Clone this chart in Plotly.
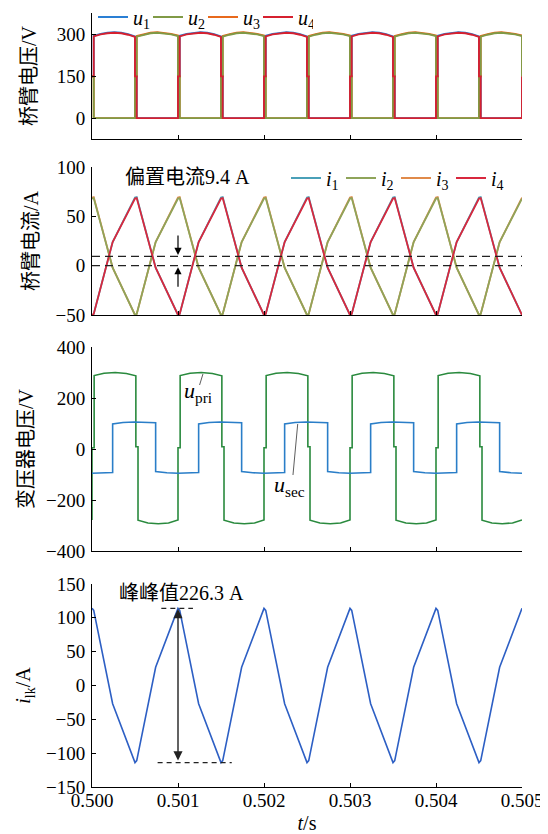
import plotly.graph_objects as go

# ---------------- data (time offsets in ms within one 1 ms switching period) ----------------
T0 = 0.500          # s, start of window
PERIOD_MS = 1.0     # switching period
N_PERIODS = 5

# arm voltages (V)
U4_T = [0.00, 0.02, 0.02, 0.10, 0.18, 0.26, 0.34, 0.42, 0.50, 0.50, 0.52, 0.52, 1.00]
U4_V = [150, 150, 294, 301, 305, 307, 305, 300, 292, 150, 150, 0, 0]
U1_V = [150, 150, 296, 303, 307, 309, 307, 302, 294, 150, 150, 0, 0]
U2_T = [0.00, 0.02, 0.02, 0.50, 0.50, 0.52, 0.52, 0.60, 0.68, 0.76, 0.84, 0.92, 1.00]
U2_V = [150, 150, 0, 0, 150, 150, 293, 300, 305, 307, 305, 301, 295]
U3_V = [150, 150, 0, 0, 150, 150, 295, 302, 307, 309, 307, 303, 297]
U_END = {"u1": 150, "u2": 150, "u3": 150, "u4": 150}

# arm currents (A)
I_T = [0.00, 0.02, 0.24, 0.50, 0.52, 0.74]
I4_V = [-50, -49, 24, 68, 68.5, -2]
I1_V = [-50, -49, 24, 69, 69.5, -2]
I2_V = [68, 68.5, -2, -50, -49, 24]
I3_V = [69, 69.5, -2, -50, -49, 24]
I_END = {"i1": -50, "i2": 68, "i3": 69, "i4": -50}
BIAS = 9.4

# transformer voltages (V)
UPRI_T = [0.000, 0.000, 0.025, 0.025, 0.14, 0.27, 0.40, 0.51, 0.51, 0.535, 0.535, 0.65, 0.77, 0.89]
UPRI_V = [-278, 5, 5, 288, 297, 300, 296, 287, 9, 9, -279, -290, -293, -290]
UPRI_END = -278
USEC_T = [0.00, 0.12, 0.24, 0.24, 0.36, 0.49, 0.62, 0.74, 0.74, 0.87]
USEC_V = [-95, -94, -92, 98, 104, 106, 105, 103, -88, -93]
USEC_END = -95

# leakage current (A)
ILK_T = [0.00, 0.02, 0.24, 0.50, 0.52, 0.74]
ILK_V = [114, 111, -27, -114, -111, 27]
ILK_END = 114
ILK_PP = 226.3
ILK_MAX = 114
ILK_MIN = -114

X_TICKS = [0.500, 0.501, 0.502, 0.503, 0.504, 0.505]
Y1_TICKS = [0, 150, 300]
Y2_TICKS = [-50, 0, 50, 100]
Y3_TICKS = [-400, -200, 0, 200, 400]
Y4_TICKS = [-150, -100, -50, 0, 50, 100, 150]


def tile(ts, vs, end_val):
    xs, ys = [], []
    for k in range(N_PERIODS):
        for t, v in zip(ts, vs):
            xs.append(T0 + (k * PERIOD_MS + t) / 1000.0)
            ys.append(v)
    xs.append(T0 + N_PERIODS * PERIOD_MS / 1000.0)
    ys.append(end_val)
    return xs, ys


SERIF = "Liberation Serif, Noto Sans CJK SC, serif"
FS = 19

fig = go.Figure()

# ---- panel 1
c_u = {"u1": "#2a7fd4", "u2": "#809a46", "u3": "#e8691c", "u4": "#d6202f"}
series1 = [("u1", U4_T, U1_V, 1), ("u3", U2_T, U3_V, 3), ("u2", U2_T, U2_V, 2), ("u4", U4_T, U4_V, 4)]
for name, ts, vs, rank in series1:
    x, y = tile(ts, vs, U_END[name])
    fig.add_trace(go.Scatter(x=x, y=y, mode="lines", name=f"<i>u</i><sub>{name[1]}</sub>",
                             line=dict(color=c_u[name], width=1.9), xaxis="x", yaxis="y",
                             legend="legend", legendrank=rank))

# ---- panel 2
c_i = {"i1": "#4aa0b8", "i2": "#8fa45a", "i3": "#e08a4a", "i4": "#d8283e"}
series2 = [("i1", I1_V, 1), ("i3", I3_V, 3), ("i2", I2_V, 2), ("i4", I4_V, 4)]
for name, vs, rank in series2:
    x, y = tile(I_T, vs, I_END[name])
    fig.add_trace(go.Scatter(x=x, y=y, mode="lines", name=f"<i>i</i><sub>{name[1]}</sub>",
                             line=dict(color=c_i[name], width=1.8), xaxis="x2", yaxis="y2",
                             legend="legend2", legendrank=rank))

# ---- panel 3
x, y = tile(UPRI_T, UPRI_V, UPRI_END)
fig.add_trace(go.Scatter(x=x, y=y, mode="lines", name="u_pri", showlegend=False,
                         line=dict(color="#2a8a3e", width=1.6), xaxis="x3", yaxis="y3"))
x, y = tile(USEC_T, USEC_V, USEC_END)
fig.add_trace(go.Scatter(x=x, y=y, mode="lines", name="u_sec", showlegend=False,
                         line=dict(color="#2a7ec8", width=1.6), xaxis="x3", yaxis="y3"))

# ---- panel 4
x, y = tile(ILK_T, ILK_V, ILK_END)
fig.add_trace(go.Scatter(x=x, y=y, mode="lines", name="i_lk", showlegend=False,
                         line=dict(color="#2d5fc4", width=1.6), xaxis="x4", yaxis="y4"))

# ---------------- layout ----------------
OFF = 8                      # page body margin of the browser
W, H = 540, 826
ML, MR, MT, MB = 84, 26, 5, 47
PH = H - MT - MB
PW = W - ML - MR


def dom(top_s, bot_s):
    # screen px -> paper fraction
    return [(H - MB - (bot_s - OFF)) / PH, (H - MB - (top_s - OFF)) / PH]


def ypaper(y_s):
    return (H - MB - (y_s - OFF)) / PH


def xpaper(x_s):
    return (x_s - OFF - ML) / PW


axis_common = dict(showline=True, linecolor="black", linewidth=1, ticks="inside", ticklen=4,
                   tickcolor="black", tickwidth=1, showgrid=False, zeroline=False,
                   tickfont=dict(family=SERIF, size=FS, color="black"))

TITLE_FONT = dict(family=SERIF, size=20, color="black")
xr = [X_TICKS[0], X_TICKS[-1]]
layout = dict(
    width=W, height=H, margin=dict(l=ML, r=MR, t=MT, b=MB, autoexpand=False),
    paper_bgcolor="white", plot_bgcolor="white",
    font=dict(family=SERIF, size=FS, color="black"),
    xaxis=dict(domain=[0, 1], range=xr, tickvals=X_TICKS, showticklabels=False, anchor="y", **axis_common),
    xaxis2=dict(domain=[0, 1], range=xr, tickvals=X_TICKS, showticklabels=False, anchor="y2", **axis_common),
    xaxis3=dict(domain=[0, 1], range=xr, tickvals=X_TICKS, showticklabels=False, anchor="y3", **axis_common),
    xaxis4=dict(domain=[0, 1], range=xr, tickvals=X_TICKS, ticktext=[f"{v:.3f}" for v in X_TICKS],
                anchor="y4", ticklabelstandoff=-4,
                title=dict(text="<i>t</i>/s", font=TITLE_FONT, standoff=14),
                **axis_common),
    yaxis=dict(domain=dom(13, 139), range=[-75, 378], tickvals=Y1_TICKS, anchor="x", ticklabelstandoff=2,
               title=dict(text="桥臂电压/V", font=TITLE_FONT, standoff=14), **axis_common),
    yaxis2=dict(domain=dom(167, 315), range=[-50, 100], tickvals=Y2_TICKS, anchor="x2", ticklabelstandoff=2,
                title=dict(text="桥臂电流/A", font=TITLE_FONT, standoff=11), **axis_common),
    yaxis3=dict(domain=dom(347, 551), range=[-400, 400], tickvals=Y3_TICKS, anchor="x3", ticklabelstandoff=2,
                title=dict(text="变压器电压/V", font=TITLE_FONT, standoff=6), **axis_common),
    yaxis4=dict(domain=dom(584, 787), range=[-150, 150], tickvals=Y4_TICKS, anchor="x4", ticklabelstandoff=2,
                title=dict(text="<i>i</i><sub>lk</sub>/A", font=TITLE_FONT, standoff=9),
                **axis_common),
    legend=dict(orientation="h", x=xpaper(93), y=ypaper(17), xanchor="left", yanchor="middle",
                bgcolor="rgba(0,0,0,0)", font=dict(family=SERIF, size=20), entrywidth=10,
                entrywidthmode="pixels", traceorder="normal"),
    legend2=dict(orientation="h", x=xpaper(286), y=ypaper(178),
                 xanchor="left", yanchor="middle", bgcolor="rgba(0,0,0,0)",
                 font=dict(family=SERIF, size=20), entrywidth=10, entrywidthmode="pixels",
                 traceorder="normal"),
    showlegend=True,
)
fig.update_layout(**layout)

# ---- panel 2 decorations
for yv in [0, BIAS]:
    fig.add_shape(type="line", xref="x2", yref="y2", x0=xr[0], x1=xr[1], y0=yv, y1=yv,
                  line=dict(color="#222222", width=1.3, dash="8px,5px"))
fig.add_annotation(xref="x2", yref="y2", x=0.500364, y=89.6, text="偏置电流9.4 A", showarrow=False,
                   xanchor="left", yanchor="middle", font=dict(family=SERIF, size=20))
fig.add_annotation(xref="x2", yref="y2", x=0.501, y=BIAS + 1.5, ax=0.501, ay=32, axref="x2", ayref="y2",
                   text="", showarrow=True, arrowhead=2, arrowsize=1.2, arrowwidth=1.2, arrowcolor="black")
fig.add_annotation(xref="x2", yref="y2", x=0.501, y=-1.5, ax=0.501, ay=-23, axref="x2", ayref="y2",
                   text="", showarrow=True, arrowhead=2, arrowsize=1.2, arrowwidth=1.2, arrowcolor="black")

# ---- panel 3 labels
fig.add_shape(type="line", xref="x3", yref="y3", x0=0.501251, y0=251, x1=0.50129, y1=294,
              line=dict(color="#333333", width=0.8))
fig.add_annotation(xref="x3", yref="y3", x=0.501236, y=222, text="<i>u</i><sub>pri</sub>", showarrow=False,
                   font=dict(family=SERIF, size=22))
fig.add_shape(type="line", xref="x3", yref="y3", x0=0.502337, y0=-102, x1=0.502392, y1=98,
              line=dict(color="#333333", width=0.8))
fig.add_annotation(xref="x3", yref="y3", x=0.502294, y=-145, text="<i>u</i><sub>sec</sub>", showarrow=False,
                   font=dict(family=SERIF, size=22))

# ---- panel 4 decorations
fig.add_shape(type="line", xref="x4", yref="y4", x0=0.500806, x1=0.501174, y0=ILK_MAX, y1=ILK_MAX,
              line=dict(color="#222222", width=1.2, dash="5px,4px"))
fig.add_shape(type="line", xref="x4", yref="y4", x0=0.500763, x1=0.501625, y0=ILK_MIN, y1=ILK_MIN,
              line=dict(color="#222222", width=1.2, dash="5px,4px"))
fig.add_annotation(xref="x4", yref="y4", x=0.501, y=ILK_MAX - 1, ax=0.501, ay=ILK_MIN + 1,
                   axref="x4", ayref="y4", text="", showarrow=True, arrowhead=2, startarrowhead=2,
                   arrowside="end+start", arrowsize=1.3, arrowwidth=1.4, arrowcolor="#222222")
fig.add_annotation(xref="x4", yref="y4", x=0.500294, y=136, text=f"峰峰值{ILK_PP} A", showarrow=False,
                   xanchor="left", yanchor="middle", font=dict(family=SERIF, size=20))

fig.write_html("out.html")
